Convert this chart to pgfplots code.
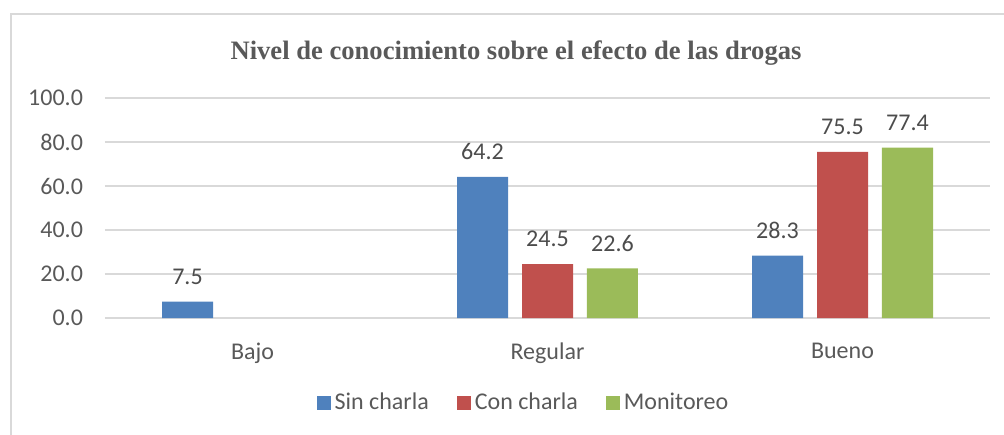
\documentclass[border=0pt]{standalone}
\usepackage{pgfplots}
\pgfplotsset{compat=1.18}
\usepackage{fontspec}
\setmainfont{Carlito}
\newfontfamily\titlefont{Liberation Serif}

\definecolor{sinc}{HTML}{4F81BD}
\definecolor{conc}{HTML}{C0504D}
\definecolor{moni}{HTML}{9BBB59}
\definecolor{txt}{HTML}{595959}
\definecolor{grd}{HTML}{D9D9D9}

\begin{document}
\begin{tikzpicture}
\draw[grd, line width=0.75pt] (5.5pt,-10pt) -- (5.5pt,210pt) -- (510pt,210pt);
\node[text=txt, font=\titlefont\bfseries\fontsize{13.3}{16}\selectfont] at (258pt,190.5pt)
  {Nivel de conocimiento sobre el efecto de las drogas};
\begin{axis}[
    at={(52.5pt,58pt)}, anchor=south west,
    scale only axis,
    width=442.5pt, height=110pt,
    ybar,
    bar width=0.1729,
    xmin=-0.5, xmax=2.5,
    ymin=0, ymax=100,
    xtick={0,1,2},
    xticklabels={Bajo,Regular,Bueno},
    ytick={0,20,40,60,80,100},
    yticklabel={\pgfmathprintnumber[fixed,fixed zerofill,precision=1]{\tick}},
    /pgf/number format/assume math mode=true,
    ymajorgrids,
    grid style={grd, line width=0.75pt},
    axis line style={draw=none},
    major tick style={draw=none},
    tick label style={text=txt, font=\fontsize{12}{14}\selectfont},
    yticklabel style={anchor=east, xshift=-7.5pt},
    xticklabel style={anchor=north, yshift=-4.5pt},
    nodes near coords={\pgfmathprintnumber[fixed,fixed zerofill,precision=1]{\pgfplotspointmeta}},
    every node near coord/.append style={text=txt!85!black, font=\fontsize{12}{14}\selectfont, yshift=5pt},
    legend columns=3,
    legend style={draw=none, fill=none, at={(0.474,-0.386)}, anchor=center,
        font=\fontsize{12}{14}\selectfont, text=txt,
        /tikz/every even column/.append style={column sep=12pt}},
    legend image code/.code={\fill[#1] (-3pt,-3.5pt) rectangle (4pt,3.5pt);},
]
\addplot[fill=sinc, draw=none, bar shift=-0.2203] coordinates {(0,7.5) (1,64.2) (2,28.3)};
\addplot[fill=conc, draw=none, bar shift=0] coordinates {(1,24.5) (2,75.5)};
\addplot[fill=moni, draw=none, bar shift=0.2203] coordinates {(1,22.6) (2,77.4)};
\legend{Sin charla, Con charla, Monitoreo}
\end{axis}
\pgfresetboundingbox
\useasboundingbox (0,0) rectangle (502pt,217pt);
\end{tikzpicture}
\end{document}
